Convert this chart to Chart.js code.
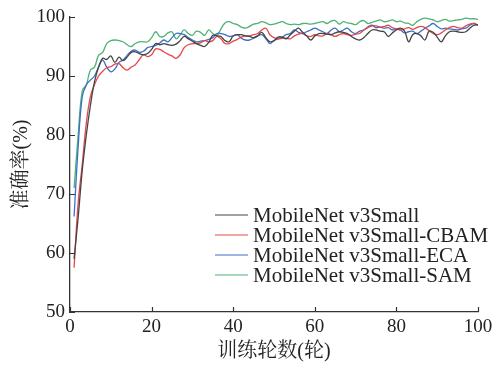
<!DOCTYPE html>
<html>
<head>
<meta charset="utf-8">
<script src="https://cdn.jsdelivr.net/npm/chart.js@4"></script>
<style>
  html, body { margin: 0; padding: 0; background: #fff; }
  #wrap { width: 501px; height: 365px; }
</style>
</head>
<body>
<div id="wrap"><canvas id="chartAcc"></canvas></div>
<script>
// 训练轮数 1..100
var epochs = [];
for (var i = 1; i <= 100; i++) epochs.push(i);

var xTicks = [0, 20, 40, 60, 80, 100];
var yTicks = [50, 60, 70, 80, 90, 100];

var seriesNames = ['MobileNet v3Small', 'MobileNet v3Small-CBAM', 'MobileNet v3Small-ECA', 'MobileNet v3Small-SAM'];

var accBase = [59, 66, 74, 80, 85, 89, 91.5, 93, 92.8, 93.4,
    92.3, 93.2, 92.6, 93.2, 94, 94.1, 93.8, 93.6, 93.8, 94.5,
    95.5, 95.3, 95.5, 95.3, 95.2, 95.4, 96, 96.7, 96.3, 95.9,
    95.5, 95.2, 95, 95.7, 96.9, 96.8, 96.7, 96, 95.8, 96.8,
    97, 97, 96.8, 96.7, 96.5, 96.8, 97.4, 96.5, 95.8, 96,
    96.6, 96.6, 96.3, 97, 97.6, 98.1, 97.4, 96.8, 96.1, 96.8,
    97.2, 97.2, 97.1, 97, 97.3, 97.5, 97.4, 97.2, 96.7, 96.3,
    96.1, 96.5, 97.2, 97.8, 97.8, 97.6, 97.5, 96.7, 97.3, 97.8,
    98.1, 97.6, 95.8, 97, 97.2, 96.8, 96.1, 97.6, 97.4, 96.6,
    95.8, 96.8, 97.5, 97.6, 97.5, 97.4, 97.5, 98.1, 98.6, 98.7];

var accCBAM = [57.5, 68.5, 75, 82, 86.5, 88.5, 90, 90.8, 91.4, 91.6,
    92, 92.1, 91.4, 91, 91.5, 91.9, 92.8, 93.6, 93.3, 93.6,
    94.6, 94.5, 94.1, 93.7, 93.4, 93, 93.6, 94.8, 95.3, 95.5,
    95.5, 95.6, 96, 95.8, 96, 96.7, 96.3, 95.5, 95.5, 95.9,
    96.2, 96.6, 96.8, 96.8, 97, 97.2, 97.8, 98.1, 97, 96.5,
    96.3, 96.4, 96.4, 96.3, 96.8, 97.1, 97.2, 96.8, 96.7, 97,
    96.8, 96.8, 97.2, 97, 96.7, 97, 97.2, 97, 96.9, 97.1,
    97.2, 97.8, 98.2, 98.5, 98.5, 98.3, 98.4, 98.6, 98.2, 98,
    97.8, 98, 98.2, 97.9, 98.2, 98.4, 98.2, 97.7, 97.2, 97,
    97.3, 97.8, 98.2, 98.4, 98.2, 98.1, 98.5, 98.8, 98.9, 98.6];

var accECA = [66.2, 78, 86.5, 88.5, 89.3, 90, 91.5, 92.7, 91.5, 90.7,
    91.2, 92.3, 92.7, 93.5, 94.2, 94.4, 94, 94.2, 94.8, 95,
    95.2, 95.6, 96.1, 95.8, 96.5, 97.2, 97.2, 97, 96.5, 96.1,
    95.8, 95.9, 96, 96.2, 96.5, 97.2, 97.2, 97, 96.7, 96.8,
    97, 96.4, 96.1, 96.1, 96.4, 96.8, 97, 96.3, 95.5, 96,
    96.3, 96.6, 97, 97.2, 97.8, 97.4, 97.2, 97.5, 97.8, 98.1,
    97.8, 97.5, 97.2, 97.8, 98.1, 97.5, 97.8, 98.1, 97.5, 97.2,
    97.6, 97.8, 98.3, 98.6, 98.2, 98.3, 98.1, 98.2, 97.8, 98,
    97.8, 97.3, 97.5, 97.6, 97.2, 97.6, 98.1, 98.5, 98.9, 98.4,
    98, 98.1, 98, 97.9, 97.8, 98, 98.1, 98.6, 98.9, 98.6];

var accSAM = [71, 80, 87.5, 88.5, 91, 91.5, 93.5, 94, 95.5, 96,
    96.1, 96, 95.8, 95.3, 95, 95.5, 95.8, 95.8, 95.8, 96.5,
    97.5, 96.7, 96.7, 97.3, 97.5, 96.3, 97, 97.8, 97.2, 96.9,
    97.6, 97.4, 96.9, 97.8, 97.2, 96.9, 98, 99, 99.2, 98.9,
    98.7, 98.3, 98.1, 98.4, 98.8, 98.9, 99.2, 99, 98.7, 98.8,
    99, 99.2, 98.9, 98.7, 98.8, 98.7, 98.9, 98.9, 98.8, 98.9,
    99.1, 99.2, 98.9, 99.3, 99.4, 98.8, 99.2, 99, 98.9, 98.7,
    99.2, 99.4, 98.9, 99.1, 99.3, 99.5, 99.2, 99.3, 99.5, 99.2,
    99.3, 99, 98.9, 98.6, 99.2, 99.6, 99.8, 99.7, 99.5, 99.2,
    99.4, 99.6, 99.3, 99.4, 99.5, 99.6, 99.8, 99.7, 99.7, 99.6];

var colors = ['#444444', '#e5474b', '#3d6fc6', '#4fb374'];
var serif = "'Liberation Serif', 'Noto Serif CJK SC', 'Noto Sans CJK SC', serif";
var axisColor = '#333333';

function toPoints(values) {
    return values.map(function(v, i) { return { x: epochs[i], y: v }; });
}

// 内侧刻度线
var innerTicks = {
    id: 'innerTicks',
    afterDraw: function(chart) {
        var ctx = chart.ctx;
        var xs = chart.scales.x, ys = chart.scales.y;
        ctx.save();
        ctx.strokeStyle = axisColor;
        ctx.lineWidth = 1.2;
        ctx.beginPath();
        xTicks.forEach(function(t) {
            var px = Math.round(xs.getPixelForValue(t)) + 0.5;
            ctx.moveTo(px, ys.bottom);
            ctx.lineTo(px, ys.bottom - 5);
        });
        yTicks.forEach(function(t) {
            var py = Math.round(ys.getPixelForValue(t)) + 0.5;
            ctx.moveTo(xs.left, py);
            ctx.lineTo(xs.left + 5, py);
        });
        ctx.stroke();
        ctx.restore();
    }
};

// 图内图例 (右下)
var innerLegend = {
    id: 'innerLegend',
    afterDraw: function(chart) {
        var ctx = chart.ctx;
        var area = chart.chartArea;
        var x0 = area.left + 145, y0 = area.top + 198;
        ctx.save();
        ctx.font = '21px ' + serif;
        ctx.textBaseline = 'middle';
        chart.data.datasets.forEach(function(ds, i) {
            var y = y0 + i * 20;
            ctx.strokeStyle = ds.borderColor;
            ctx.lineWidth = 1.2;
            ctx.beginPath();
            ctx.moveTo(x0, y);
            ctx.lineTo(x0 + 33, y);
            ctx.stroke();
            ctx.fillStyle = '#222222';
            ctx.fillText(ds.label, x0 + 38, y + 1);
        });
        ctx.restore();
    }
};

var allSeries = [accBase, accCBAM, accECA, accSAM];

new Chart(document.getElementById('chartAcc').getContext('2d'), {
    type: 'line',
    data: {
        datasets: allSeries.map(function(vals, i) {
            return {
                label: seriesNames[i],
                data: toPoints(vals),
                borderColor: colors[i],
                borderWidth: 1.3,
                pointRadius: 0,
                tension: 0.4,
                fill: false
            };
        })
    },
    options: {
        responsive: true,
        maintainAspectRatio: false,
        animation: false,
        layout: {
            padding: { top: 17, right: 23, left: 0, bottom: 0 }
        },
        plugins: {
            legend: { display: false },
            tooltip: { enabled: false }
        },
        scales: {
            x: {
                type: 'linear',
                min: 0,
                max: 100,
                afterBuildTicks: function(scale) {
                    scale.ticks = xTicks.map(function(v) { return { value: v }; });
                },
                afterFit: function(scale) { scale.height = 53; },
                grid: { display: false, drawTicks: false },
                border: { display: true, color: axisColor, width: 1.3 },
                ticks: {
                    color: '#222222',
                    padding: 4,
                    maxRotation: 0,
                    font: { family: serif, size: 19 }
                },
                title: {
                    display: true,
                    text: '训练轮数(轮)',
                    color: '#222222',
                    padding: { top: 0, bottom: 1 },
                    font: { family: serif, size: 20 }
                }
            },
            y: {
                min: 50,
                max: 100,
                afterBuildTicks: function(scale) {
                    scale.ticks = yTicks.map(function(v) { return { value: v }; });
                },
                afterFit: function(scale) { scale.width = 70; },
                grid: { display: false, drawTicks: false },
                border: { display: true, color: axisColor, width: 1.3 },
                ticks: {
                    color: '#222222',
                    padding: 5,
                    font: { family: serif, size: 19 }
                },
                title: {
                    display: true,
                    text: '准确率(%)',
                    color: '#222222',
                    padding: { top: 10, bottom: 0 },
                    font: { family: serif, size: 20 }
                }
            }
        }
    },
    plugins: [innerTicks, innerLegend]
});
</script>
</body>
</html>
